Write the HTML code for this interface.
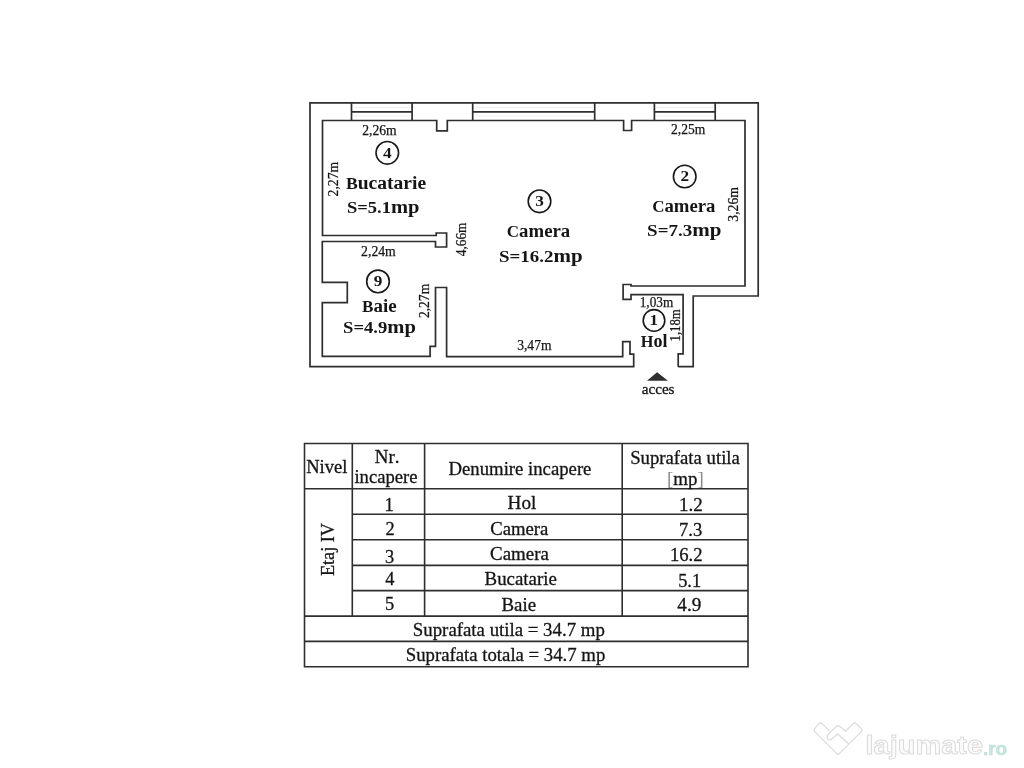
<!DOCTYPE html>
<html><head><meta charset="utf-8"><title>Plan</title>
<style>
html,body{margin:0;padding:0;background:#fff;}
body{width:1024px;height:768px;overflow:hidden;}
svg{display:block;position:absolute;left:0;top:0;will-change:transform;}
text{font-kerning:none;}
</style></head>
<body>
<svg width="1024" height="768" viewBox="0 0 1024 768">
<path d="M678.2,366.7 L693.2,366.7 L693.2,296.0 L758.2,296.0 L758.2,102.8 L310.0,102.8 L310.0,366.7 L633.7,366.7 L633.7,354.2 L630.0,354.2 L630.0,341.6 L622.7,341.6 L622.7,356.6 L446.6,356.6 L446.6,287.5 L435.5,287.5 L435.5,346.4 L430.1,346.4 L430.1,356.4 L322.3,356.4 L322.3,302.7 L347.3,302.7 L347.3,282.3 L322.3,282.3 L322.3,241.5 L435.5,241.5 L435.5,247.0 L446.6,247.0 L446.6,233.0 L436.2,233.0 L436.2,235.5 L322.5,235.5 L322.5,120.5 L436.7,120.5 L436.7,130.8 L447.3,130.8 L447.3,120.5 L623.6,120.5 L623.6,130.5 L631.6,130.5 L631.6,120.5 L745.0,120.5 L745.0,286.0 L631.0,286.0 L631.0,284.5 L623.1,284.5 L623.1,299.3 L631.0,299.3 L631.0,294.6 L683.1,294.6 L683.1,353.8 L678.2,353.8 L678.2,366.7" fill="none" stroke="#2e2e2e" stroke-width="1.7" stroke-linejoin="miter"/>
<path d="M353.5,107.4 H410.1 M353.5,115.9 H410.1" fill="none" stroke="#eeeeee" stroke-width="1"/>
<path d="M351.5,102.8 V120.5 M412.1,102.8 V120.5 M351.5,111.8 H412.1" fill="none" stroke="#2e2e2e" stroke-width="1.7"/>
<path d="M474.7,107.4 H592.7 M474.7,115.9 H592.7" fill="none" stroke="#eeeeee" stroke-width="1"/>
<path d="M472.7,102.8 V120.5 M594.7,102.8 V120.5 M472.7,111.8 H594.7" fill="none" stroke="#2e2e2e" stroke-width="1.7"/>
<path d="M656.4,107.4 H713.2 M656.4,115.9 H713.2" fill="none" stroke="#eeeeee" stroke-width="1"/>
<path d="M654.4,102.8 V120.5 M715.2,102.8 V120.5 M654.4,111.8 H715.2" fill="none" stroke="#2e2e2e" stroke-width="1.7"/>
<circle cx="387.3" cy="152.8" r="11.3" fill="none" stroke="#181818" stroke-width="1.6"/>
<text x="383.03" y="157.74" font-family="'Liberation Serif', serif" font-weight="bold" font-size="15" textLength="8.62" lengthAdjust="spacingAndGlyphs" fill="#151515">4</text>
<circle cx="539.5" cy="201.3" r="11.3" fill="none" stroke="#181818" stroke-width="1.6"/>
<text x="535.16" y="206.27" font-family="'Liberation Serif', serif" font-weight="bold" font-size="15" textLength="8.62" lengthAdjust="spacingAndGlyphs" fill="#151515">3</text>
<circle cx="684.7" cy="176.5" r="11.3" fill="none" stroke="#181818" stroke-width="1.6"/>
<text x="680.40" y="181.47" font-family="'Liberation Serif', serif" font-weight="bold" font-size="15" textLength="8.62" lengthAdjust="spacingAndGlyphs" fill="#151515">2</text>
<circle cx="378.0" cy="281.4" r="11.3" fill="none" stroke="#181818" stroke-width="1.6"/>
<text x="373.76" y="286.37" font-family="'Liberation Serif', serif" font-weight="bold" font-size="15" textLength="8.62" lengthAdjust="spacingAndGlyphs" fill="#151515">9</text>
<circle cx="654.0" cy="320.4" r="10.8" fill="none" stroke="#181818" stroke-width="1.6"/>
<text x="649.44" y="325.35" font-family="'Liberation Serif', serif" font-weight="bold" font-size="15" textLength="8.62" lengthAdjust="spacingAndGlyphs" fill="#151515">1</text>
<text x="345.91" y="188.90" font-family="'Liberation Serif', serif" font-weight="bold" font-size="16.3" textLength="80.30" lengthAdjust="spacingAndGlyphs" fill="#151515"><tspan font-size="16.3">B</tspan><tspan font-size="18.0">ucatarie</tspan></text>
<text x="346.91" y="213.30" font-family="'Liberation Serif', serif" font-weight="bold" font-size="16.3" textLength="72.52" lengthAdjust="spacingAndGlyphs" fill="#151515"><tspan font-size="16.3">S=5.1</tspan><tspan font-size="18.0">mp</tspan></text>
<text x="506.87" y="237.00" font-family="'Liberation Serif', serif" font-weight="bold" font-size="16.3" textLength="63.31" lengthAdjust="spacingAndGlyphs" fill="#151515"><tspan font-size="16.3">C</tspan><tspan font-size="18.0">amera</tspan></text>
<text x="498.99" y="262.20" font-family="'Liberation Serif', serif" font-weight="bold" font-size="16.3" textLength="83.66" lengthAdjust="spacingAndGlyphs" fill="#151515"><tspan font-size="16.3">S=16.2</tspan><tspan font-size="18.0">mp</tspan></text>
<text x="652.17" y="212.00" font-family="'Liberation Serif', serif" font-weight="bold" font-size="16.3" textLength="63.31" lengthAdjust="spacingAndGlyphs" fill="#151515"><tspan font-size="16.3">C</tspan><tspan font-size="18.0">amera</tspan></text>
<text x="647.09" y="236.40" font-family="'Liberation Serif', serif" font-weight="bold" font-size="16.3" textLength="74.36" lengthAdjust="spacingAndGlyphs" fill="#151515"><tspan font-size="16.3">S=7.3</tspan><tspan font-size="18.0">mp</tspan></text>
<text x="362.12" y="311.60" font-family="'Liberation Serif', serif" font-weight="bold" font-size="16.3" textLength="34.57" lengthAdjust="spacingAndGlyphs" fill="#151515"><tspan font-size="16.3">B</tspan><tspan font-size="18.0">aie</tspan></text>
<text x="343.11" y="332.70" font-family="'Liberation Serif', serif" font-weight="bold" font-size="16.3" textLength="72.82" lengthAdjust="spacingAndGlyphs" fill="#151515"><tspan font-size="16.3">S=4.9</tspan><tspan font-size="18.0">mp</tspan></text>
<text x="640.72" y="347.10" font-family="'Liberation Serif', serif" font-weight="bold" font-size="16.3" textLength="26.69" lengthAdjust="spacingAndGlyphs" fill="#151515"><tspan font-size="16.3">H</tspan><tspan font-size="18.0">ol</tspan></text>
<g stroke="#151515" stroke-width="0.25">
<text x="362.30" y="135.20" font-family="'Liberation Serif', serif" font-weight="normal" font-size="13.7" textLength="34.41" lengthAdjust="spacingAndGlyphs" fill="#151515">2,26m</text>
<text x="671.11" y="134.30" font-family="'Liberation Serif', serif" font-weight="normal" font-size="13.7" textLength="34.21" lengthAdjust="spacingAndGlyphs" fill="#151515">2,25m</text>
<text x="361.10" y="255.90" font-family="'Liberation Serif', serif" font-weight="normal" font-size="13.7" textLength="34.72" lengthAdjust="spacingAndGlyphs" fill="#151515">2,24m</text>
<text x="517.15" y="349.80" font-family="'Liberation Serif', serif" font-weight="normal" font-size="13.7" textLength="34.36" lengthAdjust="spacingAndGlyphs" fill="#151515">3,47m</text>
<text x="639.74" y="306.50" font-family="'Liberation Serif', serif" font-weight="normal" font-size="13.7" textLength="33.47" lengthAdjust="spacingAndGlyphs" fill="#151515">1,03m</text>
<text transform="translate(338.10,196.40) rotate(-90)" x="0" y="0" font-family="'Liberation Serif', serif" font-weight="normal" font-size="13.7" textLength="34.62" lengthAdjust="spacingAndGlyphs" fill="#151515">2,27m</text>
<text transform="translate(737.70,221.66) rotate(-90)" x="0" y="0" font-family="'Liberation Serif', serif" font-weight="normal" font-size="13.7" textLength="34.67" lengthAdjust="spacingAndGlyphs" fill="#151515">3,26m</text>
<text transform="translate(466.20,256.26) rotate(-90)" x="0" y="0" font-family="'Liberation Serif', serif" font-weight="normal" font-size="13.7" textLength="33.67" lengthAdjust="spacingAndGlyphs" fill="#151515">4,66m</text>
<text transform="translate(429.40,318.10) rotate(-90)" x="0" y="0" font-family="'Liberation Serif', serif" font-weight="normal" font-size="13.7" textLength="34.31" lengthAdjust="spacingAndGlyphs" fill="#151515">2,27m</text>
<text transform="translate(679.80,341.42) rotate(-90)" x="0" y="0" font-family="'Liberation Serif', serif" font-weight="normal" font-size="13.7" textLength="32.12" lengthAdjust="spacingAndGlyphs" fill="#151515">1,18m</text>
</g>
<path d="M647,380.8 L657.1,372.2 L668,380.8 Z" fill="#2e2e2e"/>
<text x="641.67" y="393.70" font-family="'Liberation Serif', serif" font-weight="normal" font-size="14.6" textLength="32.88" lengthAdjust="spacingAndGlyphs" fill="#151515" stroke="#151515" stroke-width="0.3">acces</text>
<path d="M304.5,443.5 H748.0 V666.8 H304.5 Z M304.5,488.8 H748.0 M352.3,514.2 H748.0 M352.3,539.7 H748.0 M352.3,565.4 H748.0 M352.3,590.6 H748.0 M304.5,616.1 H748.0 M304.5,641.4 H748.0 M352.3,443.5 V616.1 M424.6,443.5 V616.1 M622.2,443.5 V616.1" fill="none" stroke="#2e2e2e" stroke-width="1.6"/>
<g stroke="#151515" stroke-width="0.3">
<text x="306.17" y="473.30" font-family="'Liberation Serif', serif" font-weight="normal" font-size="18.4" textLength="41.21" lengthAdjust="spacingAndGlyphs" fill="#151515">Nivel</text>
<text x="374.75" y="463.40" font-family="'Liberation Serif', serif" font-weight="normal" font-size="18.4" textLength="24.69" lengthAdjust="spacingAndGlyphs" fill="#151515">Nr.</text>
<text x="354.41" y="482.50" font-family="'Liberation Serif', serif" font-weight="normal" font-size="18.4" textLength="63.04" lengthAdjust="spacingAndGlyphs" fill="#151515">incapere</text>
<text x="448.56" y="474.70" font-family="'Liberation Serif', serif" font-weight="normal" font-size="18.4" textLength="142.89" lengthAdjust="spacingAndGlyphs" fill="#151515">Denumire incapere</text>
<text x="630.15" y="463.70" font-family="'Liberation Serif', serif" font-weight="normal" font-size="18.4" textLength="109.71" lengthAdjust="spacingAndGlyphs" fill="#151515">Suprafata utila</text>
<text x="667.00" y="484.80" font-family="'Liberation Serif', serif" font-weight="normal" font-size="18.4" textLength="36.70" lengthAdjust="spacingAndGlyphs" fill="#151515"><tspan fill="#8a8a8a" stroke="none">[</tspan>mp<tspan fill="#8a8a8a" stroke="none">]</tspan></text>
<text x="384.44" y="511.30" font-family="'Liberation Serif', serif" font-weight="normal" font-size="18.4" textLength="9.20" lengthAdjust="spacingAndGlyphs" fill="#151515">1</text>
<text x="507.55" y="508.60" font-family="'Liberation Serif', serif" font-weight="normal" font-size="18.4" textLength="28.74" lengthAdjust="spacingAndGlyphs" fill="#151515">Hol</text>
<text x="679.13" y="510.60" font-family="'Liberation Serif', serif" font-weight="normal" font-size="18.4" textLength="23.71" lengthAdjust="spacingAndGlyphs" fill="#151515">1.2</text>
<text x="385.50" y="534.70" font-family="'Liberation Serif', serif" font-weight="normal" font-size="18.4" textLength="9.20" lengthAdjust="spacingAndGlyphs" fill="#151515">2</text>
<text x="490.23" y="535.40" font-family="'Liberation Serif', serif" font-weight="normal" font-size="18.4" textLength="58.12" lengthAdjust="spacingAndGlyphs" fill="#151515">Camera</text>
<text x="678.97" y="536.00" font-family="'Liberation Serif', serif" font-weight="normal" font-size="18.4" textLength="23.25" lengthAdjust="spacingAndGlyphs" fill="#151515">7.3</text>
<text x="385.12" y="562.60" font-family="'Liberation Serif', serif" font-weight="normal" font-size="18.4" textLength="9.20" lengthAdjust="spacingAndGlyphs" fill="#151515">3</text>
<text x="490.12" y="559.50" font-family="'Liberation Serif', serif" font-weight="normal" font-size="18.4" textLength="58.83" lengthAdjust="spacingAndGlyphs" fill="#151515">Camera</text>
<text x="669.96" y="560.80" font-family="'Liberation Serif', serif" font-weight="normal" font-size="18.4" textLength="32.67" lengthAdjust="spacingAndGlyphs" fill="#151515">16.2</text>
<text x="385.16" y="585.00" font-family="'Liberation Serif', serif" font-weight="normal" font-size="18.4" textLength="9.20" lengthAdjust="spacingAndGlyphs" fill="#151515">4</text>
<text x="484.56" y="585.30" font-family="'Liberation Serif', serif" font-weight="normal" font-size="18.4" textLength="72.30" lengthAdjust="spacingAndGlyphs" fill="#151515">Bucatarie</text>
<text x="678.13" y="587.20" font-family="'Liberation Serif', serif" font-weight="normal" font-size="18.4" textLength="22.97" lengthAdjust="spacingAndGlyphs" fill="#151515">5.1</text>
<text x="385.02" y="610.00" font-family="'Liberation Serif', serif" font-weight="normal" font-size="18.4" textLength="9.20" lengthAdjust="spacingAndGlyphs" fill="#151515">5</text>
<text x="501.46" y="610.60" font-family="'Liberation Serif', serif" font-weight="normal" font-size="18.4" textLength="34.60" lengthAdjust="spacingAndGlyphs" fill="#151515">Baie</text>
<text x="677.33" y="611.10" font-family="'Liberation Serif', serif" font-weight="normal" font-size="18.4" textLength="23.96" lengthAdjust="spacingAndGlyphs" fill="#151515">4.9</text>
<text transform="translate(334.20,576.12) rotate(-90)" x="0" y="0" font-family="'Liberation Serif', serif" font-weight="normal" font-size="18.4" textLength="53.13" lengthAdjust="spacingAndGlyphs" fill="#151515">Etaj IV</text>
<text x="412.84" y="636.10" font-family="'Liberation Serif', serif" font-weight="normal" font-size="18.4" textLength="191.99" lengthAdjust="spacingAndGlyphs" fill="#151515">Suprafata utila = 34.7 mp</text>
<text x="405.75" y="661.40" font-family="'Liberation Serif', serif" font-weight="normal" font-size="18.4" textLength="199.59" lengthAdjust="spacingAndGlyphs" fill="#151515">Suprafata totala = 34.7 mp</text>
</g>
<path d="M829.3,730.6 L822,723.6 Q820.5,722.4 819,723.6 L814.6,728.6 Q813.4,730.2 814.6,731.6 L836.6,753.4 Q838.1,754.8 839.6,753.4 L861.4,731.6 Q862.8,730.2 861.4,728.6 L856,723.6 Q854.5,722.4 853,723.6 L845.7,731.2 L839.4,726 Q838.1,725 836.8,726 L828.2,734.2 Q826.4,736.6 828.2,739.4 Q829.6,740.8 831.2,739.6 L837.6,734 L848.6,743.8" fill="none" stroke="#dcdcdc" stroke-width="1.3" stroke-linejoin="round" stroke-linecap="round"/>
<text x="865.5" y="754.3" font-family="'Liberation Sans', sans-serif" font-weight="bold" font-size="26" textLength="117.5" lengthAdjust="spacingAndGlyphs" fill="#fcfcfc" stroke="#dcdcdc" stroke-width="1">lajumate</text>
<text x="983" y="754.5" font-family="'Liberation Sans', sans-serif" font-weight="bold" font-size="19" textLength="24" lengthAdjust="spacingAndGlyphs" fill="#c8e6df" stroke="#b9ddd5" stroke-width="0.6">.ro</text>
</svg>
</body></html>
